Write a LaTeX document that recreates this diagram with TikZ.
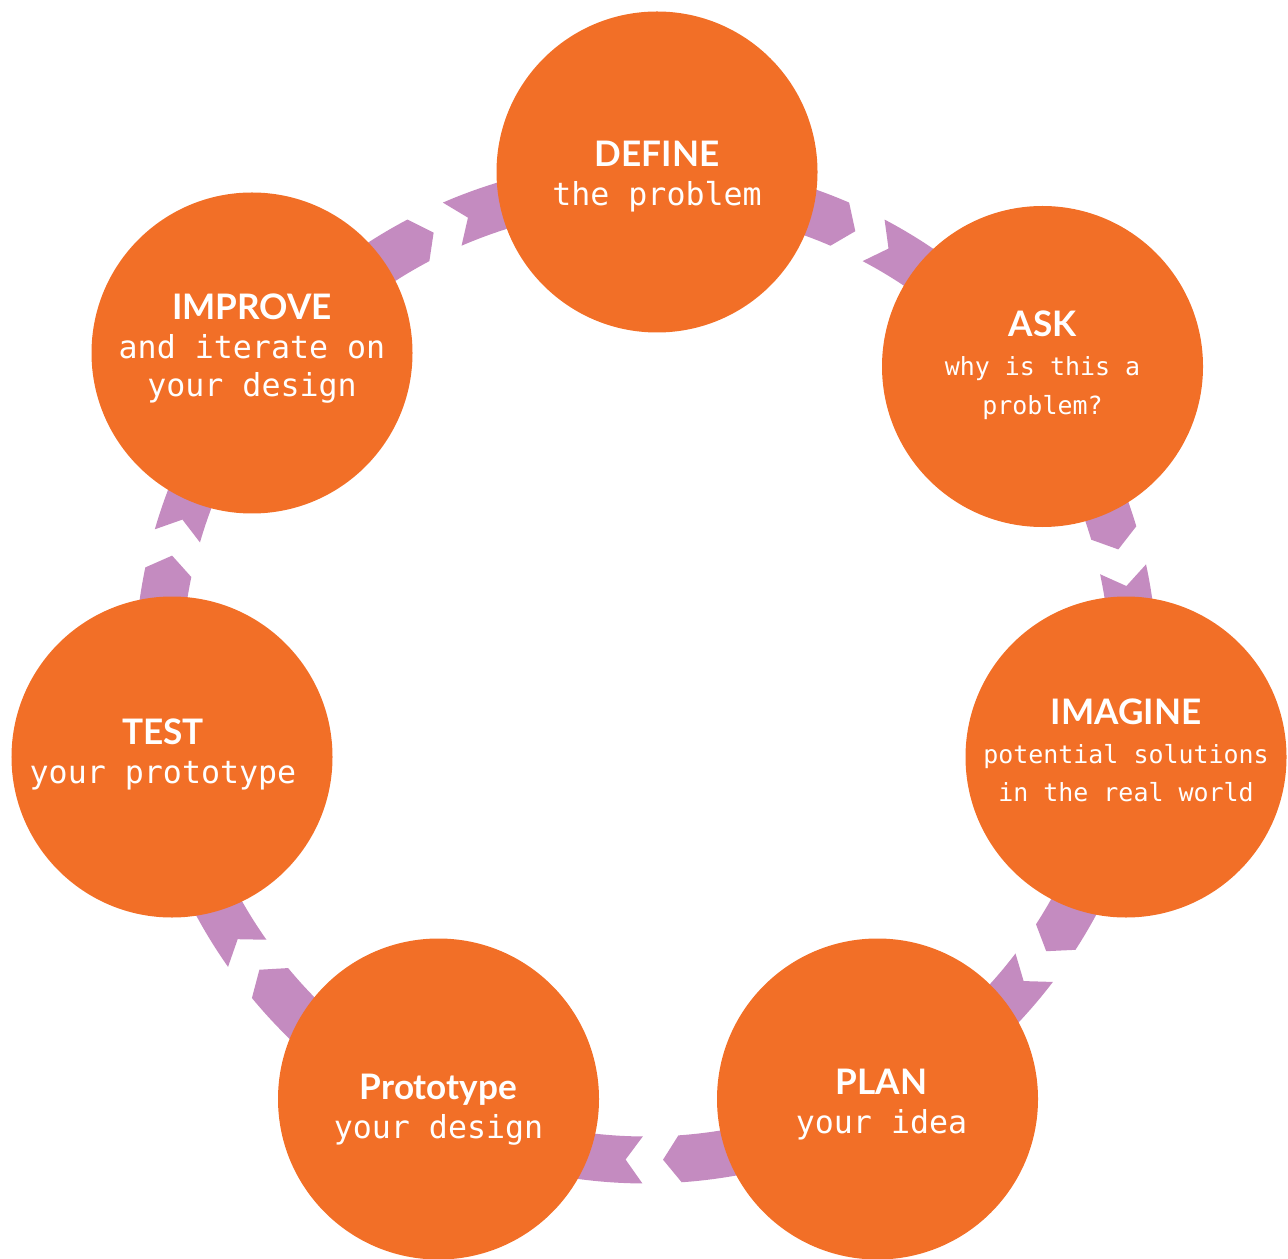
\documentclass[tikz,border=0pt]{standalone}
\usepackage{fontspec}
\newfontfamily\headfont{Lato}
\newfontfamily\monofont{DejaVu Sans Mono}

\definecolor{stageorange}{RGB}{242,111,39}  % circle fill
\definecolor{ringlilac}{RGB}{196,139,192}   % arrow ring

\begin{document}
\begin{tikzpicture}[
  stage/.style={circle, fill=stageorange, minimum size=3.21cm, inner sep=0pt},
  stagetext/.style={align=center, text=white, inner sep=0pt,
    font=\monofont\fontsize{9}{11}\selectfont},
  smallsub/.style={font=\monofont\fontsize{7.1}{11}\selectfont}]

%─────────────
% Controls
%─────────────
\def\ringR{4.88}   % radius of the ring centre line
\def\ringW{0.47}   % width of the ring band
\def\cutA{2.2}     % half width of each cut, in degrees
\def\tipA{2.0}     % depth of arrow tip and notch, in degrees

\useasboundingbox (0,0) rectangle (12.88,12.58);
\coordinate (ring) at (6.46,5.86);

%───────────────────────────────────────────────────────
% Ring of arrows: one piece per stage, notched tail at
% angle #a, pointed head at angle #b (clockwise)
%───────────────────────────────────────────────────────
\begin{scope}[shift={(ring)}]
  \pgfmathsetmacro{\Ro}{\ringR+\ringW/2}
  \pgfmathsetmacro{\Ri}{\ringR-\ringW/2}
  \foreach \a/\b in {115.6/64.4, 64.4/14.35, 14.35/-35.1, -35.1/-88.2,
                     -88.2/-142.6, -142.6/-194.0, -194.0/-244.4} {
    \pgfmathsetmacro{\s}{\a-\cutA}
    \pgfmathsetmacro{\e}{\b+\cutA}
    \fill[ringlilac] (\s:\Ro) arc[start angle=\s, end angle=\e, radius=\Ro]
      -- (\e-\tipA:\ringR) -- (\e:\Ri)
      arc[start angle=\e, end angle=\s, radius=\Ri]
      -- (\s-\tipA:\ringR) -- cycle;
  }
\end{scope}

%───────────────────────────────────────────────────────
% One stage: circle plus its text
% #1 name, (#2,#3) centre, #4 extra text options,
% #5 title, #6 lines below the title
%───────────────────────────────────────────────────────
\newcommand{\drawStage}[6]{%
  \node[stage] (#1) at (#2,#3) {};
  \node[stagetext,#4] (#1-txt) at (#1)
    {{\headfont\bfseries\fontsize{10}{11}\selectfont #5}\\#6\rule[-0.075cm]{0pt}{0.075cm}};
}

\drawStage{define}{6.57}{10.86}{yshift=-0.05cm}{DEFINE}{the problem}
\drawStage{ask}{10.425}{8.915}{smallsub}{ASK}{why is this a\\problem?}
\drawStage{imagine}{11.26}{5.01}{smallsub, yshift=0.03cm}{IMAGINE}{potential solutions\\in the real world}
\drawStage{plan}{8.775}{1.59}{xshift=0.04cm, yshift=-0.06cm}{PLAN}{your idea}
\drawStage{proto}{4.385}{1.59}{yshift=-0.11cm}{Prototype}{your design}
\drawStage{test}{1.72}{5.01}{xshift=-0.09cm, yshift=0.02cm}{TEST}{your prototype}
\drawStage{improve}{2.52}{9.05}{yshift=0.04cm}{IMPROVE}{and iterate on\\your design}

\end{tikzpicture}
\end{document}
